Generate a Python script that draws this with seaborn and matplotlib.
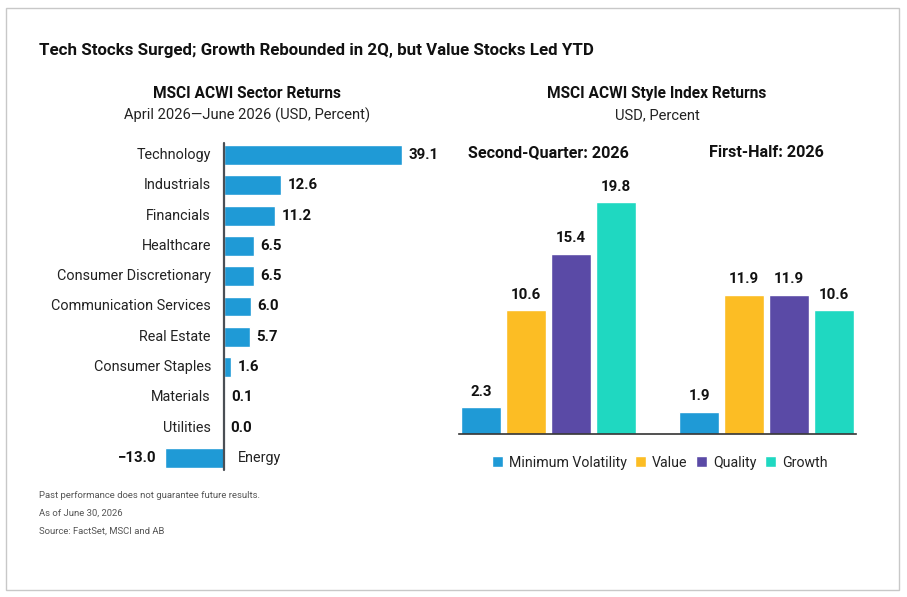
import matplotlib
matplotlib.use("Agg")
import matplotlib.pyplot as plt
import seaborn as sns
import pandas as pd
from matplotlib.patches import Rectangle

# --- 데이터 ---
sectors = ["Technology", "Industrials", "Financials", "Healthcare", "Consumer Discretionary",
           "Communication Services", "Real Estate", "Consumer Staples", "Materials",
           "Utilities", "Energy"]
sector_returns = [39.1, 12.6, 11.2, 6.5, 6.5, 6.0, 5.7, 1.6, 0.1, 0.0, -13.0]

periods = ["Second-Quarter: 2026", "First-Half: 2026"]
styles = ["Minimum Volatility", "Value", "Quality", "Growth"]
q2_returns = [2.3, 10.6, 15.4, 19.8]
h1_returns = [1.9, 11.9, 11.9, 10.6]

style_colors = ["#1f9ad6", "#fcbd24", "#5a4aa6", "#1fd8c1"]
sector_color = "#1f9ad6"

sns.set_theme(style="white")
plt.rcParams["font.family"] = ["Roboto", "DejaVu Sans"]

fig = plt.figure(figsize=(9.07, 5.97), dpi=100)
fig.patches.append(Rectangle((6 / 907, 1 - 590 / 597), 893 / 907, 582 / 597,
                             transform=fig.transFigure, fill=False,
                             edgecolor="#c8c8c8", linewidth=1))

# --- 제목 ---
fig.text(39 / 907, 1 - 50 / 597, "Tech Stocks Surged; Growth Rebounded in 2Q, but Value Stocks Led YTD",
         fontsize=12.2, fontweight="bold", va="center", color="#111111")
fig.text(247 / 907, 1 - 94 / 597, "MSCI ACWI Sector Returns", fontsize=11.2,
         fontweight="bold", ha="center", va="center", color="#111111")
fig.text(247 / 907, 1 - 115 / 597, "April 2026\u2014June 2026 (USD, Percent)", fontsize=10.6,
         ha="center", va="center", color="#222222")
fig.text(657 / 907, 1 - 94 / 597, "MSCI ACWI Style Index Returns", fontsize=11.2,
         fontweight="bold", ha="center", va="center", color="#111111")
fig.text(657 / 907, 1 - 115 / 597, "USD, Percent", fontsize=10.6,
         ha="center", va="center", color="#222222")

# --- 왼쪽: 섹터 수익률 ---
ax1 = fig.add_axes([165 / 907, 1 - 473.15 / 597, 237 / 907, 333.3 / 597])
df_sec = pd.DataFrame({"sector": sectors, "ret": sector_returns})
sns.barplot(data=df_sec, x="ret", y="sector", orient="h", color=sector_color,
            width=0.66, saturation=1, ax=ax1)
ax1.set_xlim(min(sector_returns), max(sector_returns))
ax1.set_ylim(len(sectors) - 0.5, -0.5)
ax1.axvline(0, ymin=0.01, ymax=0.99, color="#4a4f55", linewidth=1.6)
ax1.set_axis_off()
for i, (name, v) in enumerate(zip(sectors, sector_returns)):
    if v >= 0:
        ax1.annotate(name, (0, i), xytext=(-9.5, 0), textcoords="offset points",
                     ha="right", va="center", fontsize=10.4, color="#222222")
        ax1.annotate(f"{v:.1f}", (v, i), xytext=(4.5, 0), textcoords="offset points",
                     ha="left", va="center", fontsize=10.8, fontweight="bold", color="#111111")
    else:
        ax1.annotate(name, (0, i), xytext=(10, 0), textcoords="offset points",
                     ha="left", va="center", fontsize=10.4, color="#222222")
        ax1.annotate(f"\u2212{abs(v):.1f}", (v, i), xytext=(-6, 0), textcoords="offset points",
                     ha="right", va="center", fontsize=10.8, fontweight="bold", color="#111111")

# --- 오른쪽: 스타일 지수 수익률 ---
ax2 = fig.add_axes([439.5 / 907, 1 - 434 / 597, 436 / 907, 257.6 / 597])
df_sty = pd.DataFrame({
    "period": [periods[0]] * len(styles) + [periods[1]] * len(styles),
    "style": styles * 2,
    "ret": q2_returns + h1_returns,
})
sns.barplot(data=df_sty, x="period", y="ret", hue="style", hue_order=styles,
            palette=style_colors, saturation=1, width=0.825, gap=0.11, ax=ax2, legend=True)
ax2.set_ylim(0, 22)
ax2.set_xlim(-0.5, 1.5)
for c in ax2.containers:
    ax2.bar_label(c, fmt="%.1f", padding=6, fontsize=10.8, fontweight="bold", color="#111111")
for s in ["top", "right", "left"]:
    ax2.spines[s].set_visible(False)
ax2.spines["bottom"].set_bounds(-0.41, 1.41)
ax2.spines["bottom"].set_color("#333333")
ax2.spines["bottom"].set_linewidth(1.2)
ax2.set_yticks([])
ax2.set_xlabel("")
ax2.set_ylabel("")
ax2.xaxis.tick_top()
ax2.tick_params(axis="x", length=0, pad=12)
ax2.set_xticks(range(len(periods)))
ax2.set_xticklabels(periods, fontsize=11.6, fontweight="bold", color="#111111")

handles, labels = ax2.get_legend_handles_labels()
ax2.legend(handles, labels, loc="upper center", bbox_to_anchor=(0.505, -0.035), ncol=4,
           frameon=False, fontsize=10.2, handlelength=0.8, handleheight=0.8,
           handletextpad=0.4, columnspacing=0.6, labelcolor="#222222")

# --- 각주 ---
notes = ["Past performance does not guarantee future results.", "As of June 30, 2026",
         "Source: FactSet, MSCI and AB"]
for k, t in enumerate(notes):
    fig.text(39 / 907, 1 - (496 + 17.5 * k) / 597, t, fontsize=6.8, color="#555555", va="center")

fig.savefig("out.png", dpi=100)
